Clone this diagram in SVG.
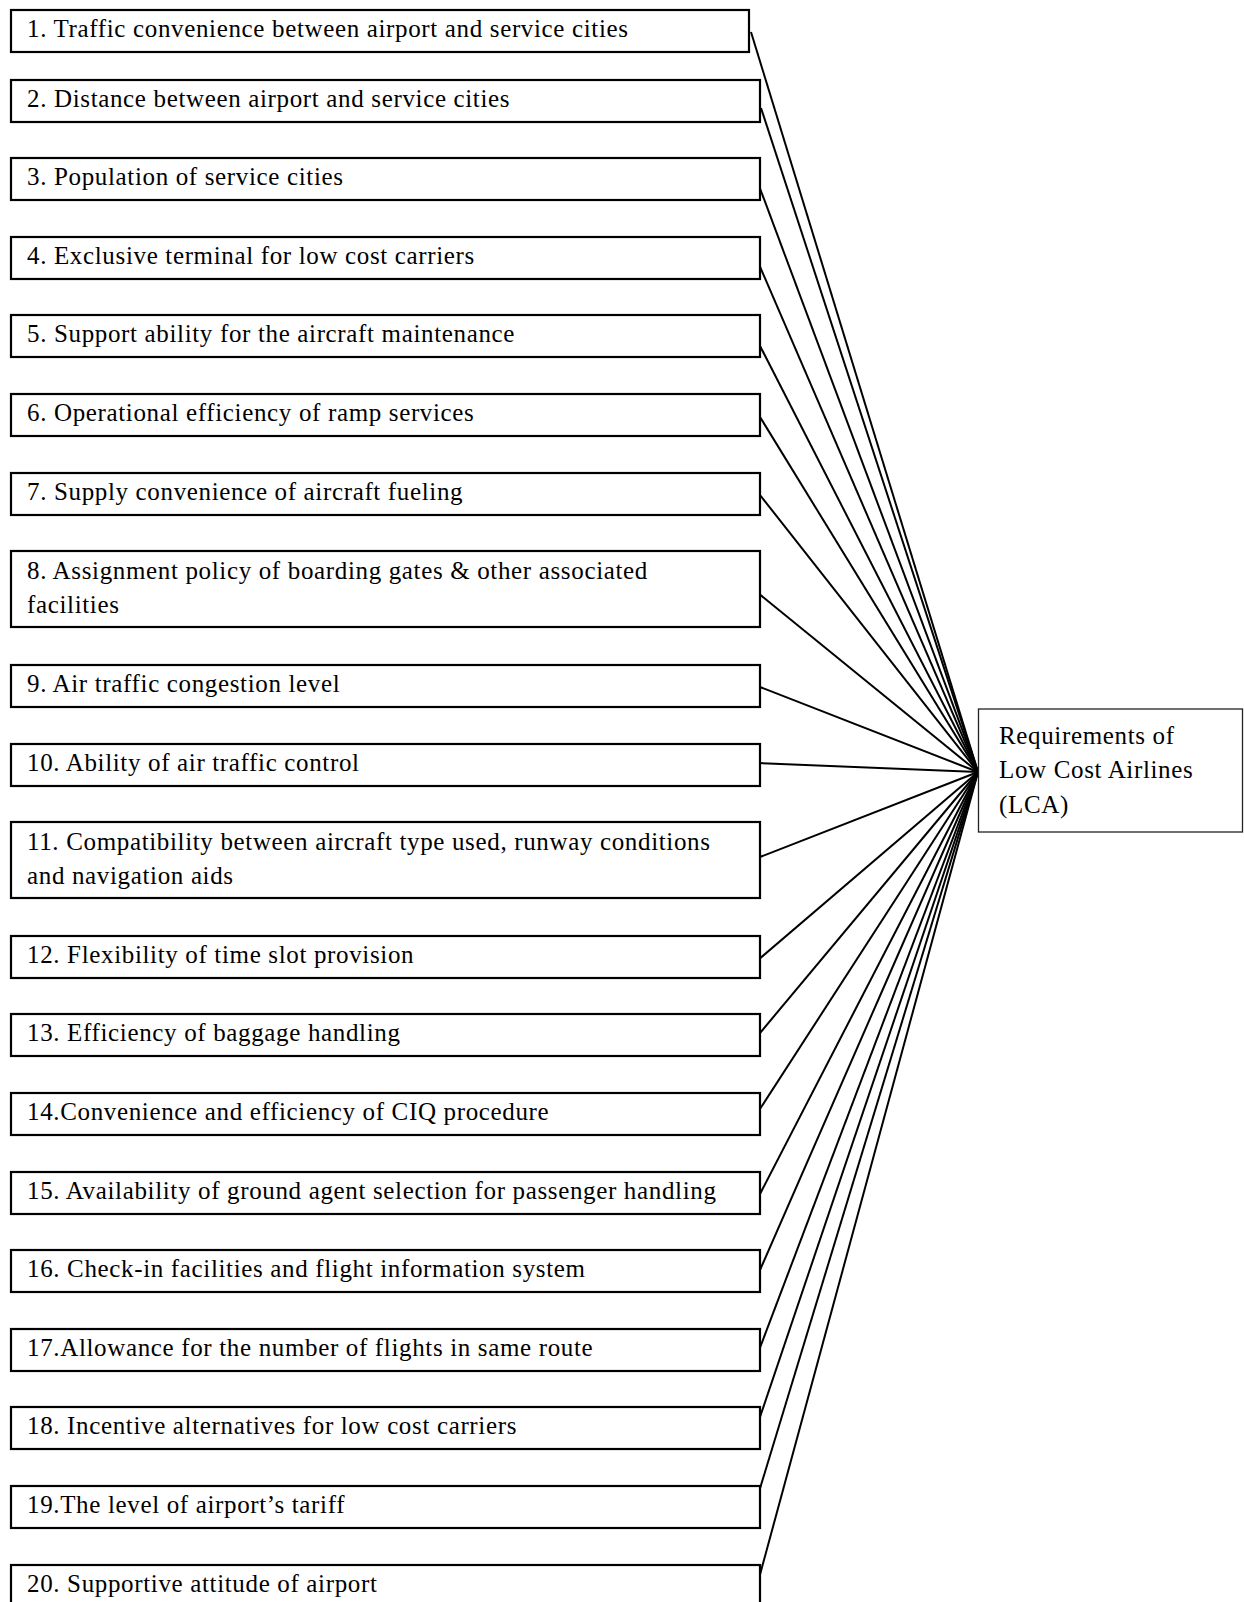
<svg xmlns="http://www.w3.org/2000/svg" width="1244" height="1602" viewBox="0 0 1244 1602">
<style>
.box{fill:#fff;stroke:#000;stroke-width:2.2}
.main{fill:#fff;stroke:#222;stroke-width:1.3}
.t{font-family:"Liberation Serif","Times New Roman",serif;font-size:25px;letter-spacing:0.65px;fill:#000}
.c{stroke:#000;stroke-width:2;fill:none}
</style>
<rect width="1244" height="1602" fill="#fff"/>
<g id="connectors">
<line class="c" x1="751" y1="32" x2="978" y2="772"/>
<line class="c" x1="761" y1="108" x2="978" y2="772"/>
<line class="c" x1="758" y1="183" x2="978" y2="772"/>
<line class="c" x1="758" y1="262" x2="978" y2="772"/>
<line class="c" x1="758" y1="342" x2="978" y2="772"/>
<line class="c" x1="760" y1="417" x2="978" y2="772"/>
<line class="c" x1="760" y1="495" x2="978" y2="772"/>
<line class="c" x1="758" y1="593" x2="978" y2="772"/>
<line class="c" x1="760" y1="687" x2="978" y2="772"/>
<line class="c" x1="758" y1="763" x2="978" y2="772"/>
<line class="c" x1="760" y1="857" x2="978" y2="772"/>
<line class="c" x1="758" y1="960" x2="978" y2="772"/>
<line class="c" x1="760" y1="1033" x2="978" y2="772"/>
<line class="c" x1="758" y1="1112" x2="978" y2="772"/>
<line class="c" x1="760" y1="1194" x2="978" y2="772"/>
<line class="c" x1="760" y1="1270" x2="978" y2="772"/>
<line class="c" x1="758" y1="1353" x2="978" y2="772"/>
<line class="c" x1="758" y1="1423" x2="978" y2="772"/>
<line class="c" x1="758" y1="1495" x2="978" y2="772"/>
<line class="c" x1="758" y1="1582" x2="978" y2="772"/>
</g>
<g id="n1"><rect class="box" x="11" y="10" width="738" height="42"/><text class="t" x="27" y="37">1. Traffic convenience between airport and service cities</text></g>
<g id="n2"><rect class="box" x="11" y="80" width="749" height="42"/><text class="t" x="27" y="107">2. Distance between airport and service cities</text></g>
<g id="n3"><rect class="box" x="11" y="158" width="749" height="42"/><text class="t" x="27" y="185">3. Population of service cities</text></g>
<g id="n4"><rect class="box" x="11" y="237" width="749" height="42"/><text class="t" x="27" y="264">4. Exclusive terminal for low cost carriers</text></g>
<g id="n5"><rect class="box" x="11" y="315" width="749" height="42"/><text class="t" x="27" y="342">5. Support ability for the aircraft maintenance</text></g>
<g id="n6"><rect class="box" x="11" y="394" width="749" height="42"/><text class="t" x="27" y="421">6. Operational efficiency of ramp services</text></g>
<g id="n7"><rect class="box" x="11" y="473" width="749" height="42"/><text class="t" x="27" y="500">7. Supply convenience of aircraft fueling</text></g>
<g id="n8"><rect class="box" x="11" y="551" width="749" height="76"/><text class="t" x="27" y="579">8. Assignment policy of boarding gates &amp; other associated</text><text class="t" x="27" y="613">facilities</text></g>
<g id="n9"><rect class="box" x="11" y="665" width="749" height="42"/><text class="t" x="27" y="692">9. Air traffic congestion level</text></g>
<g id="n10"><rect class="box" x="11" y="744" width="749" height="42"/><text class="t" x="27" y="771">10. Ability of air traffic control</text></g>
<g id="n11"><rect class="box" x="11" y="822" width="749" height="76"/><text class="t" x="27" y="850">11. Compatibility between aircraft type used, runway conditions</text><text class="t" x="27" y="884">and navigation aids</text></g>
<g id="n12"><rect class="box" x="11" y="936" width="749" height="42"/><text class="t" x="27" y="963">12. Flexibility of time slot provision</text></g>
<g id="n13"><rect class="box" x="11" y="1014" width="749" height="42"/><text class="t" x="27" y="1041">13. Efficiency of baggage handling</text></g>
<g id="n14"><rect class="box" x="11" y="1093" width="749" height="42"/><text class="t" x="27" y="1120">14.Convenience and efficiency of CIQ procedure</text></g>
<g id="n15"><rect class="box" x="11" y="1172" width="749" height="42"/><text class="t" x="27" y="1199">15. Availability of ground agent selection for passenger handling</text></g>
<g id="n16"><rect class="box" x="11" y="1250" width="749" height="42"/><text class="t" x="27" y="1277">16. Check-in facilities and flight information system</text></g>
<g id="n17"><rect class="box" x="11" y="1329" width="749" height="42"/><text class="t" x="27" y="1356">17.Allowance for the number of flights in same route</text></g>
<g id="n18"><rect class="box" x="11" y="1407" width="749" height="42"/><text class="t" x="27" y="1434">18. Incentive alternatives for low cost carriers</text></g>
<g id="n19"><rect class="box" x="11" y="1486" width="749" height="42"/><text class="t" x="27" y="1513">19.The level of airport’s tariff</text></g>
<g id="n20"><rect class="box" x="11" y="1565" width="749" height="42"/><text class="t" x="27" y="1592">20. Supportive attitude of airport</text></g>
<g id="lca"><rect class="main" x="978.5" y="709" width="264" height="123"/><text class="t" x="999" y="744">Requirements of</text><text class="t" x="999" y="778">Low Cost Airlines</text><text class="t" x="999" y="813">(LCA)</text></g>
</svg>
